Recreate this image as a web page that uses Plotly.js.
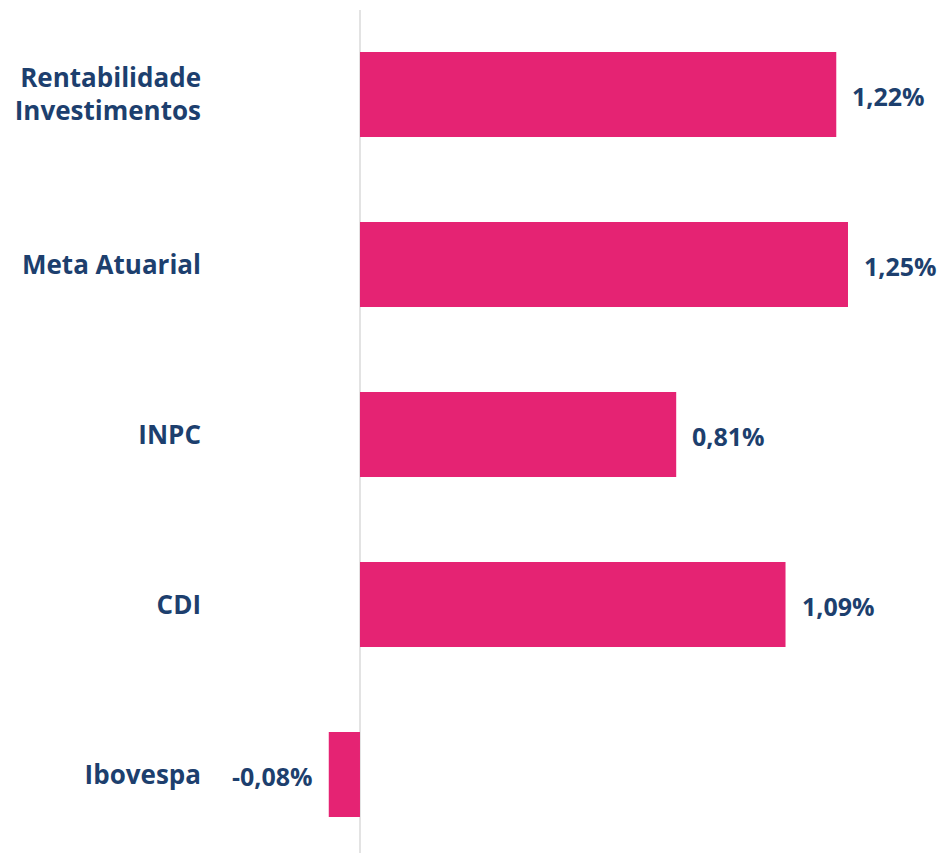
<!DOCTYPE html>
<html>
<head>
<meta charset="utf-8">
<script src="https://cdn.plot.ly/plotly-3.0.1.min.js"></script>
<style>html,body{margin:0;padding:0;background:#fff;}#chart{width:945px;height:853px;}</style>
</head>
<body>
<div id="chart"></div>
<script>
const categories = ["Rentabilidade<br>Investimentos", "Meta Atuarial", "INPC", "CDI", "Ibovespa"];
const values = [1.22, 1.25, 0.81, 1.09, -0.08];
const valueLabels = ["1,22%", "1,25%", "0,81%", "1,09%", "-0,08%"];

const navy = "#1D3F6E";
const pink = "#E52373";
const fontFam = "'Open Sans', Lato, sans-serif";

const trace = {
  type: "bar",
  orientation: "h",
  y: categories,
  x: values,
  width: 0.5,
  marker: {color: pink},
  hoverinfo: "none"
};

const annotations = values.map((v, i) => ({
  x: v,
  y: categories[i],
  xref: "x",
  yref: "y",
  text: "<b>" + valueLabels[i] + "</b>",
  showarrow: false,
  xanchor: v >= 0 ? "left" : "right",
  xshift: v >= 0 ? 14 : -14,
  yshift: -2,
  font: {family: fontFam, size: 25, color: navy}
}));

const layout = {
  width: 945,
  height: 853,
  margin: {l: 210, r: 0, t: 10, b: 0},
  paper_bgcolor: "#fff",
  plot_bgcolor: "#fff",
  showlegend: false,
  xaxis: {
    range: [-0.3842, 1.4985],
    showgrid: false,
    showticklabels: false,
    zeroline: true,
    zerolinecolor: "#e3e3e3",
    zerolinewidth: 2,
    fixedrange: true
  },
  yaxis: {
    type: "category",
    range: [4.462, -0.497],
    showgrid: false,
    zeroline: false,
    ticks: "",
    ticklabelstandoff: 8,
    tickfont: {family: fontFam, size: 26, color: navy, weight: "bold"},
    fixedrange: true
  },
  annotations: annotations
};

Plotly.newPlot("chart", [trace], layout, {displayModeBar: false, staticPlot: true});
</script>
</body>
</html>
